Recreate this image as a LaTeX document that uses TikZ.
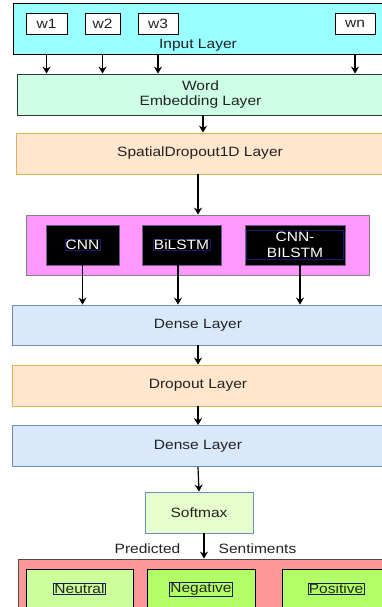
\documentclass[tikz,border=0pt]{standalone}
\usepackage{fontspec}
\newfontfamily\lyrfont{Liberation Sans}[FakeStretch=1.15]
\usetikzlibrary{arrows.meta,positioning}

\definecolor{inpcyan}{HTML}{99FFFF}
\definecolor{embmint}{HTML}{CCFFE6}
\definecolor{droppeach}{HTML}{FFE6CC}
\definecolor{droprim}{HTML}{D6B656}
\definecolor{densblue}{HTML}{DAE8FC}
\definecolor{densrim}{HTML}{6C8EBF}
\definecolor{modpink}{HTML}{FF99FF}
\definecolor{modrim}{HTML}{6E5A8A}
\definecolor{softgreen}{HTML}{E6FFCC}
\definecolor{outred}{HTML}{FF9999}
\definecolor{neutgreen}{HTML}{CCFF99}
\definecolor{polgreen}{HTML}{B3FF66}
\definecolor{tagnavy}{HTML}{1A1A66}
\definecolor{txtgray}{HTML}{222222}

\begin{document}
\begin{tikzpicture}[x=1pt,y=1pt,>={Stealth[length=7pt,width=8pt]},node distance=60.5pt,
	font=\lyrfont\fontsize{13.5}{15.5}\selectfont,text=txtgray,
	layer/.style={draw,rectangle,minimum height=41pt,inner sep=0pt,line width=0.8pt},
	wordbox/.style={draw=black,fill=white,minimum height=21pt,inner sep=0pt,line width=0.8pt},
	modelbox/.style={draw=modrim,fill=black,minimum height=40pt,inner sep=0pt,line width=0.8pt},
	tagtxt/.style={draw=tagnavy,inner sep=0.8pt,line width=0.6pt},
	flow/.style={->,line width=1.2pt,black}]

\clip (0,0) rectangle (382,-607);

\node[layer,fill=inpcyan,draw=black,minimum width=371pt,minimum height=51pt] (inp) at (198.5,-28.5) {};
	\node[wordbox,minimum width=41pt] (w1) at (46.5,-23.5) {w1};
	\node[wordbox,minimum width=35pt] (w2) at (102.5,-23.5) {w2};
	\node[wordbox,minimum width=40pt] (w3) at (158,-23.5) {w3};
	\node[wordbox,minimum width=40pt] (wn) at (355,-23.5) {wn};
	\node (inplbl) at (198,-45) {Input Layer};

\node[layer,fill=embmint,draw=black!80,minimum width=367pt,align=center] (emb) at (200.5,-94.5) {Word\\Embedding Layer};
\node[layer,fill=droppeach,draw=droprim,minimum width=368pt] (spat) at (200,-153.5) {SpatialDropout1D Layer};

\node[layer,fill=modpink,draw=black!50,minimum width=343pt,minimum height=60pt] (mods) at (197.5,-245) {};
	\node[modelbox,minimum width=73pt] (cnn) at (82.5,-245) {};
	\node[modelbox,minimum width=79pt] (bil) at (181.5,-245) {};
	\node[modelbox,minimum width=100pt] (cbil) at (295,-245) {};
	\node[tagtxt,text=white] (cnntag) at (cnn) {CNN};
	\node[tagtxt,text=white] (biltag) at (bil) {BiLSTM};
	\node[tagtxt,text=white,align=center,minimum width=97pt,minimum height=29pt] (cbiltag) at (cbil) {CNN-\\BILSTM};

\node[layer,fill=densblue,draw=densrim,minimum width=372pt,minimum height=40pt] (dense1) at (198,-325) {Dense Layer};
\node[layer,fill=droppeach,draw=droprim,minimum width=371pt] (drop) [below of=dense1] {Dropout Layer};
\node[layer,fill=densblue,draw=densrim,minimum width=371pt] (dense2) [below of=drop] {Dense Layer};

\node[layer,fill=softgreen,draw=densrim,minimum width=108pt] (soft) at (199,-512.5) {Softmax};

\node[layer,fill=outred,draw=black!70,minimum width=372pt,minimum height=60pt] (res) at (204,-589) {};
	\node[layer,fill=neutgreen,draw=black,minimum width=107pt,minimum height=40pt] (neut) at (79.5,-589) {};
	\node[layer,fill=polgreen,draw=black,minimum width=108pt,minimum height=40pt] (neg) at (201,-589) {};
	\node[layer,fill=polgreen,draw=black,minimum width=108pt,minimum height=40pt] (pos) at (336,-589) {};
	\node[tagtxt] (neuttag) at (neut) {Neutral};
	\node[tagtxt] (negtag) at (neg) {Negative};
	\node[tagtxt] (postag) at (pos) {Positive};

\node (predlbl) at (147.5,-549) {Predicted};
\node (sentlbl) at (257.5,-549) {Sentiments};

\foreach \w in {w1,w2,w3,wn}
	\draw[flow] (\w |- inp.south) -- (\w |- emb.north);

\draw[flow] ([xshift=2.5pt]emb.south) -- ([xshift=2.5pt]emb.south |- spat.north);
\draw[flow] ([xshift=-2pt]spat.south) -- ([xshift=-2pt]spat.south |- mods.north);
\draw[flow] (cnn.south) -- (cnn.south |- dense1.north);
\draw[flow] ([xshift=-3.5pt]bil.south) -- ([xshift=-3.5pt]bil.south |- dense1.north);
\draw[flow] ([xshift=5pt]cbil.south) -- ([xshift=5pt]cbil.south |- dense1.north);
\draw[flow] (dense1.south) -- (drop.north);
\draw[flow] (drop.south) -- (dense2.north);
\draw[flow] (dense2.south) -- (soft.north);
\draw[flow] ([xshift=5pt]soft.south) -- ([xshift=5pt]soft.south |- res.north);

\end{tikzpicture}
\end{document}
